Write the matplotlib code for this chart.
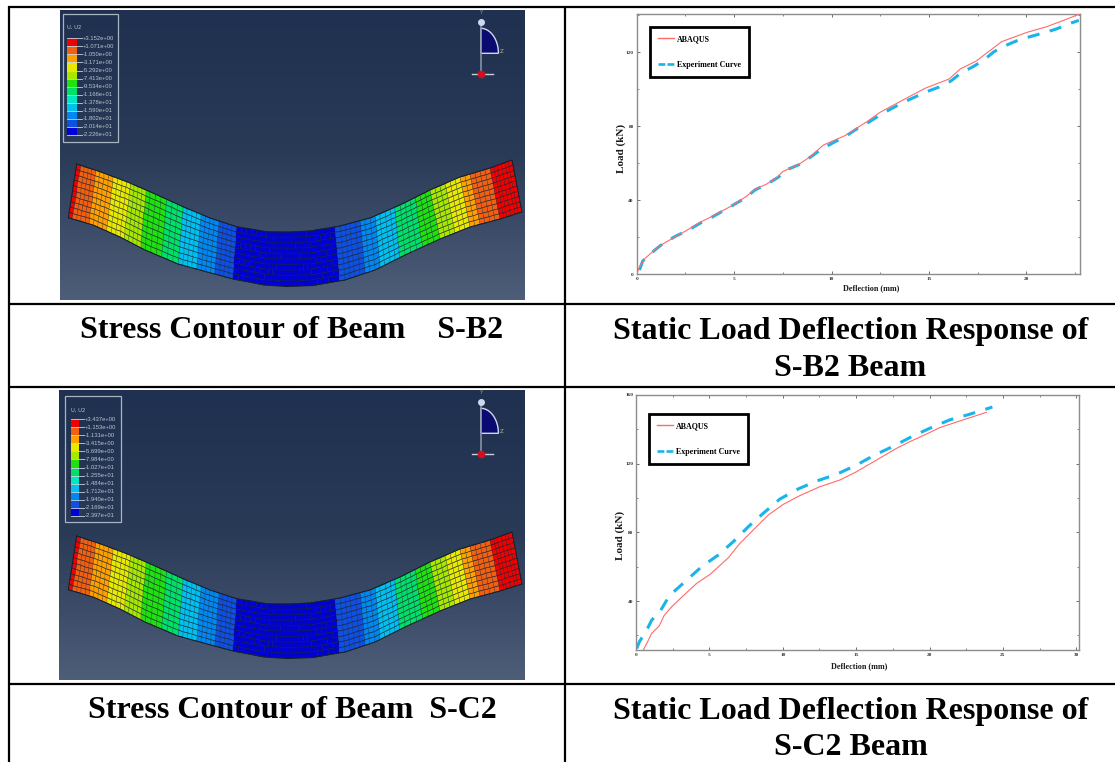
import numpy as np
import matplotlib
matplotlib.use("Agg")
import matplotlib.pyplot as plt
from matplotlib.colors import ListedColormap, LinearSegmentedColormap
from matplotlib.lines import Line2D
from matplotlib.patches import Rectangle, Polygon

W, H = 1115, 762
SERIF = ["Liberation Serif", "DejaVu Serif"]

# ---------- load-deflection data ----------
b2_abaqus_x = [0, 0.14, 0.43, 0.86, 1.37, 1.97, 2.57, 3.25, 3.93, 4.96, 5.65, 6.07, 6.67, 7.19, 7.49, 8.38,
               8.90, 9.58, 10.69, 11.81, 12.49, 13.00, 13.69, 14.80, 16.03, 16.60, 17.42, 18.73, 20.02, 21.04, 21.90, 22.69]
b2_abaqus_y = [0, 4.1, 8.6, 12.6, 16.6, 20.2, 23.8, 28.1, 31.7, 37.5, 42.3, 46.0, 48.8, 52.3, 55.5, 59.8,
               63.6, 69.9, 75.0, 82.5, 87.6, 90.5, 94.4, 100.6, 105.6, 111.0, 115.3, 125.8, 130.8, 133.9, 137.3, 140.6]
b2_exp_x = [0.14, 0.31, 0.94, 1.37, 2.05, 2.57, 3.25, 3.76, 4.45, 4.96, 5.59, 6.07, 6.72, 7.24, 7.78, 8.38, 9.07, 9.50,
            10.18, 10.69, 11.29, 11.81, 12.49, 13.00, 13.69, 14.20, 14.97, 15.53, 16.12, 16.63, 17.28, 17.79, 18.34,
            18.91, 19.64, 20.19, 20.96, 21.52, 22.24, 22.69]
b2_exp_y = [2.3, 7.2, 13.2, 16.8, 20.9, 23.4, 27.6, 30.3, 34.4, 37.5, 41.4, 45.6, 49.0, 52.3, 56.9, 59.5, 64.5, 67.8,
            71.7, 74.4, 78.6, 81.6, 86.1, 89.2, 93.0, 95.5, 99.1, 101.3, 104.5, 108.7, 112.4, 115.7, 120.4,
            123.6, 126.9, 128.5, 130.8, 132.6, 135.7, 137.3]
c2_abaqus_x = [0.50, 0.73, 1.07, 1.59, 1.91, 2.43, 3.22, 4.13, 5.04, 6.29, 7.08, 8.21, 9.01, 10.03, 11.16, 12.53,
               13.89, 15.02, 16.38, 17.74, 18.65, 19.90, 20.69, 22.28, 23.87]
c2_abaqus_y = [11.5, 15.3, 21.2, 25.6, 31.5, 36.7, 43.1, 50.3, 55.5, 65.2, 73.6, 83.3, 90.1, 96.3, 101.4, 106.6,
               110.5, 115.3, 122.1, 128.9, 132.8, 137.7, 141.0, 145.5, 149.9]
c2_exp_x = [0.05, 0.23, 0.73, 1.07, 1.63, 2.27, 3.34, 4.47, 5.60, 6.63, 7.65, 8.67, 9.80, 11.05, 12.30, 13.66,
            15.02, 16.27, 17.52, 18.77, 20.01, 21.37, 22.74, 24.28]
c2_exp_y = [12.4, 16.3, 23.1, 28.9, 33.8, 43.1, 51.3, 60.0, 66.8, 74.6, 83.3, 91.1, 99.4, 105.3, 109.9, 113.8,
            119.2, 125.1, 130.1, 135.7, 140.6, 145.5, 148.8, 153.0]

# ---------- contour data ----------
legend_colors = ["#f00000", "#f06010", "#ffa000", "#e8e800", "#a8e800", "#20e010",
                 "#00e068", "#00e8c0", "#00c0f0", "#0088f0", "#1050e0", "#0000d8"]
b2_legend = ["+3.152e+00", "+1.071e+00", "-1.050e+00", "-3.171e+00", "-5.292e+00", "-7.413e+00", "-9.534e+00",
             "-1.166e+01", "-1.378e+01", "-1.590e+01", "-1.802e+01", "-2.014e+01", "-2.226e+01"]
c2_legend = ["+3.437e+00", "+1.153e+00", "-1.131e+00", "-3.415e+00", "-5.699e+00", "-7.984e+00", "-1.027e+01",
             "-1.255e+01", "-1.484e+01", "-1.712e+01", "-1.940e+01", "-2.169e+01", "-2.397e+01"]
beam_top_x = [76.7, 100, 126.7, 150, 183, 210, 236.7, 266.7, 288, 310, 340, 370, 400, 430, 460, 490, 512]
beam_top_y = [164, 171.7, 181.7, 191.7, 206.7, 218, 226.7, 231.7, 232, 231, 226, 218, 205, 190, 177, 168, 160]
beam_bot_x = [68.3, 93, 120, 145, 178, 206, 233, 264, 288, 312, 345, 375, 405, 440, 470, 500, 522]
beam_bot_y = [217.7, 225, 237, 250, 264, 271.7, 279, 285, 286.5, 285.5, 280, 270, 255, 239, 227, 219, 212]
band_edges = [79, 98, 115, 132, 147, 167, 183, 200, 218, 237, 337, 358, 375, 397, 413, 430, 443, 460, 472, 490]
band_levels = [0, 1, 2, 3, 4, 5, 6, 8, 9, 10, 11, 10, 9, 8, 6, 5, 4, 3, 2, 1, 0]
panel_stops = ["#1f3050", "#2a3b58", "#4e5d78"]

fig = plt.figure(figsize=(W / 100, H / 100), dpi=100, facecolor="white")
bg = fig.add_axes([0, 0, 1, 1])
bg.set_xlim(0, W)
bg.set_ylim(H, 0)
bg.axis("off")

grad_cmap = LinearSegmentedColormap.from_list("panel", panel_stops)
level_cmap = ListedColormap(legend_colors)


def panel(x0, x1, y0, y1):
    g = np.linspace(0, 1, 128).reshape(-1, 1)
    bg.imshow(g, extent=(x0, x1, y1, y0), cmap=grad_cmap, aspect="auto", zorder=1)


def beam(dy):
    t = np.linspace(0, len(beam_top_x) - 1, 97)
    st = np.arange(len(beam_top_x))
    tx, ty = np.interp(t, st, beam_top_x), np.interp(t, st, beam_top_y) + dy
    bx, by = np.interp(t, st, beam_bot_x), np.interp(t, st, beam_bot_y) + dy
    f = np.linspace(0, 1, 11).reshape(-1, 1)
    X = tx + (bx - tx) * f
    Y = ty + (by - ty) * f
    mid = 0.5 * (tx[:-1] + tx[1:])
    lv = np.array(band_levels)[np.digitize(mid, band_edges)]
    C = np.tile(lv, (10, 1))
    bg.pcolormesh(X, Y, C, cmap=level_cmap, vmin=-0.5, vmax=11.5, shading="flat",
                  antialiased=True, edgecolors=(0.1, 0.15, 0.2, 0.55), linewidth=0.25, zorder=2)
    for i in range(0, 11):
        bg.plot(X[i], Y[i], color="#18242e", lw=0.45, alpha=0.75, zorder=2.5)
    bg.plot(np.r_[tx, bx[::-1], tx[0]], np.r_[ty, by[::-1], ty[0]], color="#15202a", lw=0.7, zorder=3)


def contour_legend(box, title_xy, sw, lab_x, labels):
    x0, y0, x1, y1 = box
    bg.add_patch(Rectangle((x0, y0), x1 - x0, y1 - y0, fill=False, ec="#a8b4c0", lw=0.9, zorder=4))
    bg.text(*title_xy, "U, U2", color="#b8c4cc", fontsize=3.8, va="center", zorder=5)
    sx0, sx1, sy0, sy1 = sw
    edges = np.linspace(sy0, sy1, 13)
    for i, c in enumerate(legend_colors):
        bg.add_patch(Rectangle((sx0, edges[i]), sx1 - sx0, edges[i + 1] - edges[i], fc=c, ec="none", zorder=4))
    for e, s in zip(edges, labels):
        bg.plot([sx0, sx1 + 5], [e, e], color="#c8d4dc", lw=0.6, zorder=5)
        bg.text(lab_x, e, s, color="#b8c4cc", fontsize=4.2, va="center", ha="left",
                family=["Liberation Sans Narrow", "Liberation Sans"], zorder=5)


def triad(dy):
    th = np.linspace(0, np.pi / 2, 30)
    cx, cy = 480.7, 53.3 + dy
    xs = np.r_[cx, cx + 17.7 * np.cos(th)]
    ys = np.r_[cy, cy - 25 * np.sin(th)]
    bg.add_patch(Polygon(np.c_[xs, ys], closed=True, fc="#0a0a70", ec="#d0d8e8", lw=1.0, zorder=3))
    bg.plot([cx, cx], [21.7 + dy, 73.3 + dy], color="#8890a8", lw=1.2, zorder=3)
    bg.plot([cx], [21.7 + dy], "o", color="#d0d8f0", ms=4, zorder=4)
    bg.plot([471.7, 493.3], [74 + dy, 74 + dy], color="#c8ccd8", lw=1.0, zorder=3)
    bg.plot([cx], [73.5 + dy], "o", color="#d01020", ms=4.5, zorder=4)
    bg.text(480.7, 12 + dy, "Y", color="#8aa080", fontsize=4, ha="center", va="center", zorder=4)
    bg.text(502, 51.7 + dy, "Z", color="#b0c0a0", fontsize=4, ha="center", va="center", zorder=4)


panel(60, 525, 10.5, 300.5)
panel(59, 525, 390, 680)
beam(0)
beam(372)
contour_legend((62.7, 14.3, 118, 141.7), (67, 27.7), (67.3, 76.7, 38.3, 135), 83, b2_legend)
contour_legend((65, 395.7, 120.7, 522.3), (70.7, 410), (70.7, 79.3, 419.3, 515.7), 85, c2_legend)
triad(0)
triad(380)

# table rules
for y in (7, 304, 386.5, 684):
    bg.plot([8, W], [y, y], color="black", lw=1.6, zorder=6, solid_capstyle="butt")
for x in (9, 565):
    bg.plot([x, x], [6, H], color="black", lw=1.6, zorder=6, solid_capstyle="butt")

caption = dict(family=SERIF, weight="bold", fontsize=23, ha="center", va="center", color="black", zorder=7)
bg.text(291.5, 331, "Stress Contour of Beam    S-B2", **caption)
bg.text(850.5, 331, "Static Load Deflection Response of", **caption)
bg.text(850.5, 368, "S-B2 Beam", **caption)
bg.text(292.5, 711, "Stress Contour of Beam  S-C2", **caption)
bg.text(850.5, 711, "Static Load Deflection Response of", **caption)
bg.text(850.5, 747.5, "S-C2 Beam", **caption)

RED = "#ff6a6a"
CYAN = "#1ab4ea"


def chart(box, ax_x, ax_y, exp_x, exp_y, xlim, ylim, xt, xm, yt, yl, ym, leg_anchor, xl_xy, yl_xy):
    L, T, R, B = box
    ax = fig.add_axes([L / W, 1 - B / H, (R - L) / W, (B - T) / H], facecolor="white", zorder=3)
    ax.plot(ax_x, ax_y, color=RED, lw=0.8, zorder=3)
    ax.plot(exp_x, exp_y, color=CYAN, lw=2.2, linestyle=(0, (4.0, 3.48)), zorder=2)
    ax.set_xlim(*xlim)
    ax.set_ylim(*ylim)
    ax.set_xticks(xt)
    ax.set_xticks(xm, minor=True)
    ax.set_yticks(yt)
    ax.set_yticklabels(yl)
    ax.set_yticks(ym, minor=True)
    ax.tick_params(which="major", length=2.5, width=0.5, direction="in", top=True, right=True,
                   labelsize=3.8, pad=2, colors="#333333")
    ax.tick_params(which="minor", length=1.5, width=0.5, direction="in", top=True, right=True, colors="#555555")
    for lab in ax.get_xticklabels() + ax.get_yticklabels():
        lab.set_family(SERIF)
        lab.set_weight("bold")
    for s in ax.spines.values():
        s.set_color("#8c8c8c")
        s.set_linewidth(1.0)
    handles = [Line2D([], [], color=RED, lw=1.0),
               Line2D([], [], color=CYAN, lw=1.9, linestyle=(0, (2.6, 0.8)))]
    leg = ax.legend(handles, ["ABAQUS", "Experiment Curve"], loc="upper left", bbox_to_anchor=leg_anchor,
                    borderaxespad=0, fancybox=False, framealpha=1, edgecolor="black",
                    prop=dict(family=SERIF, weight="bold", size=5.8), handlelength=2.0, handletextpad=0.4,
                    labelspacing=2.2, borderpad=1.0)
    leg.get_frame().set_linewidth(2.0)
    bg.text(*xl_xy, "Deflection (mm)", family=SERIF, weight="bold", fontsize=5.9, ha="center", va="center",
            color="#1a1a1a", zorder=7)
    bg.text(*yl_xy, "Load (kN)", family=SERIF, weight="bold", fontsize=8.0, ha="center", va="center",
            rotation=90, color="#1a1a1a", zorder=7)
    return ax


chart((636.7, 14.3, 1080, 274.3), b2_abaqus_x, b2_abaqus_y, b2_exp_x, b2_exp_y,
      (0, 22.75), (0, 140.6), [0, 5, 10, 15, 20], [2.5, 7.5, 12.5, 17.5, 22.5],
      [0, 40, 80, 120], ["0", "40", "80", "120"], [20, 60, 100, 140],
      (0.03, 0.951), (870.7, 288), (621, 148))
chart((636, 395, 1079, 650), c2_abaqus_x, c2_abaqus_y, c2_exp_x, c2_exp_y,
      (0, 30.18), (11.5, 160), [0, 5, 10, 15, 20, 25, 30], [2.5, 7.5, 12.5, 17.5, 22.5, 27.5],
      [40, 80, 120, 160], ["40", "80", "120", "160"], [20, 60, 100, 140],
      (0.029, 0.925), (859, 666), (620, 535))

fig.savefig("out.png", dpi=100, facecolor="white")
